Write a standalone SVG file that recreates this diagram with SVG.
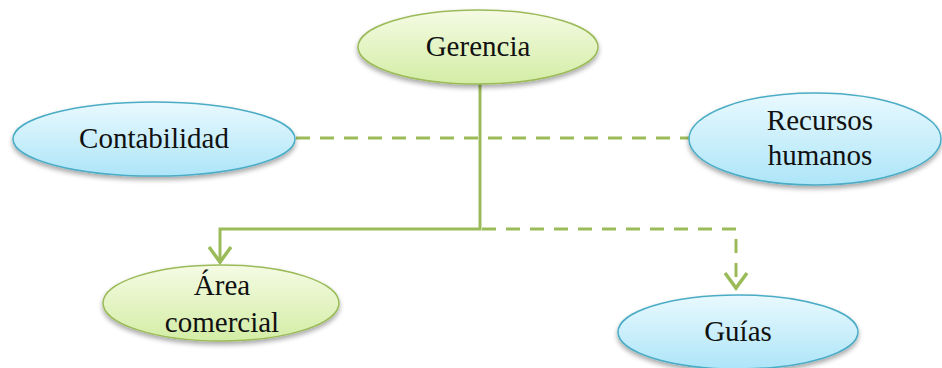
<svg xmlns="http://www.w3.org/2000/svg" width="942" height="368" viewBox="0 0 942 368">
  <style>
    .lbl { font-family: "Liberation Serif", "Times New Roman", Tinos, "DejaVu Serif", serif; font-size: 29px; fill: #111; text-anchor: middle; }
    .green { fill: url(#gGreen); stroke: #9bbb59; stroke-width: 1.5; filter: url(#shadow); }
    .blue { fill: url(#gBlue); stroke: #4bacc6; stroke-width: 1.5; filter: url(#shadow); }
    .link { fill: none; stroke: #9bbb59; stroke-width: 3; }
    .dash { stroke-dasharray: 14 10; }
  </style>
  <defs>
    <linearGradient id="gGreen" x1="0" y1="0" x2="0" y2="1">
      <stop offset="0" stop-color="#f5fbe4"/>
      <stop offset="1" stop-color="#d3eda5"/>
    </linearGradient>
    <linearGradient id="gBlue" x1="0" y1="0" x2="0" y2="1">
      <stop offset="0" stop-color="#e9f9fe"/>
      <stop offset="1" stop-color="#ade5f8"/>
    </linearGradient>
    <filter id="shadow" x="-10%" y="-20%" width="120%" height="150%">
      <feGaussianBlur in="SourceAlpha" stdDeviation="2.5"/>
      <feOffset dy="3" result="b"/>
      <feComponentTransfer><feFuncA type="linear" slope="0.35"/></feComponentTransfer>
      <feMerge><feMergeNode/><feMergeNode in="SourceGraphic"/></feMerge>
    </filter>
    <!-- open V arrowhead -->
    <marker id="chev" viewBox="-20 -14 24 28" markerWidth="24" markerHeight="28" markerUnits="userSpaceOnUse" orient="auto">
      <path d="M-16,-11 L-1,0 L-16,11" fill="none" stroke="#9bbb59" stroke-width="3.5"/>
    </marker>
  </defs>

  <g id="connectors">
    <!-- Contabilidad to Recursos humanos -->
    <line class="link dash" x1="296" y1="138" x2="690" y2="138"/>
    <!-- Gerencia trunk and branch to Área comercial -->
    <path class="link" d="M480,84 V229 H220 V263" marker-end="url(#chev)"/>
    <!-- dashed branch to Guías -->
    <path class="link dash" d="M482,229 H736 V289" marker-end="url(#chev)"/>
  </g>

  <g id="gerencia">
    <ellipse class="green" cx="478" cy="47" rx="120" ry="37"/>
    <text class="lbl" x="478" y="56">Gerencia</text>
  </g>

  <g id="contabilidad">
    <ellipse class="blue" cx="154" cy="139" rx="141" ry="37"/>
    <text class="lbl" x="154" y="148">Contabilidad</text>
  </g>

  <g id="recursos-humanos">
    <ellipse class="blue" cx="815" cy="139" rx="126" ry="46"/>
    <text class="lbl" x="820" y="130">Recursos</text>
    <text class="lbl" x="820" y="165">humanos</text>
  </g>

  <g id="area-comercial">
    <ellipse class="green" cx="221" cy="303" rx="118" ry="38"/>
    <text class="lbl" x="222" y="295">Área</text>
    <text class="lbl" x="222" y="332">comercial</text>
  </g>

  <g id="guias">
    <ellipse class="blue" cx="738" cy="332" rx="120" ry="37"/>
    <text class="lbl" x="738" y="341">Guías</text>
  </g>
</svg>
